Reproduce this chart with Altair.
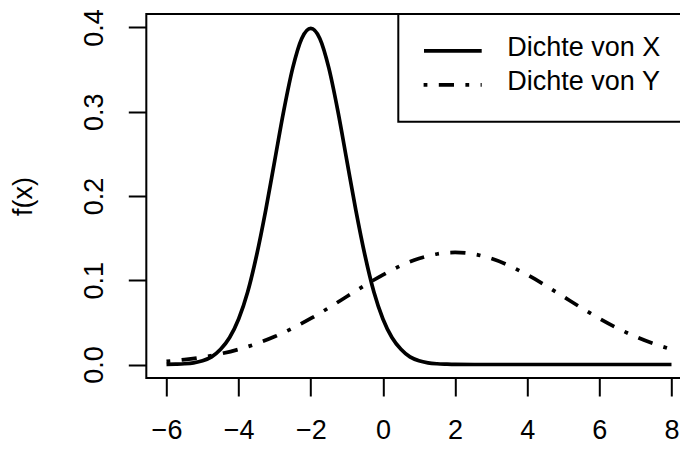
import altair as alt
import pandas as pd

# ---- data ----
x_grid_X = [-6, -5.75, -5.5, -5.25, -5, -4.75, -4.5, -4.25, -4, -3.75, -3.5, -3.25,
            -3, -2.75, -2.5, -2.25, -2, -1.75, -1.5, -1.25, -1, -0.75, -0.5, -0.25,
            0, 0.25, 0.5, 0.75, 1, 1.25, 1.5, 1.75, 2, 3, 4, 5, 6, 7, 8]
dens_X = [0.0001, 0.0004, 0.0009, 0.002, 0.0044, 0.009, 0.018, 0.032, 0.054, 0.086,
          0.130, 0.183, 0.242, 0.301, 0.352, 0.387, 0.399, 0.387, 0.352, 0.301,
          0.242, 0.183, 0.130, 0.086, 0.054, 0.032, 0.018, 0.009, 0.0044, 0.002,
          0.0009, 0.0004, 0.0001, 0.0, 0.0, 0.0, 0.0, 0.0, 0.0]

x_grid_Y = [-6, -5.5, -5, -4.5, -4, -3.5, -3, -2.5, -2, -1.5, -1, -0.5, 0, 0.5, 1,
            1.5, 2, 2.5, 3, 3.5, 4, 4.5, 5, 5.5, 6, 6.5, 7, 7.5, 8]
dens_Y = [0.0038, 0.0058, 0.0087, 0.0127, 0.0180, 0.0248, 0.0332, 0.0432, 0.0547,
          0.0673, 0.0807, 0.0940, 0.1065, 0.1174, 0.1258, 0.1312, 0.1330, 0.1312,
          0.1258, 0.1174, 0.1065, 0.0940, 0.0807, 0.0673, 0.0547, 0.0432, 0.0332,
          0.0248, 0.0180]

x_ticks = [-6, -4, -2, 0, 2, 4, 6, 8]
y_ticks = [0.0, 0.1, 0.2, 0.3, 0.4]
x_lim = [-6.56, 8.56]          # full plot box (right edge falls off the page)
x_visible = [-6.56, 8.236]     # part of the box that fits on the page
y_lim = [-0.016, 0.416]
legend_labels = ["Dichte von X", "Dichte von Y"]
y_title = "f(x)"

FONT = "Liberation Sans"
FS = 27

df_X = pd.DataFrame({"x": x_grid_X, "f": dens_X})
df_Y = pd.DataFrame({"x": x_grid_Y, "f": dens_Y})

xscale = alt.Scale(domain=x_visible, nice=False, zero=False)
yscale = alt.Scale(domain=y_lim, nice=False, zero=False)

x_axis = alt.Axis(values=x_ticks, format="d", tickSize=18, tickWidth=2, tickColor="black",
                  labelFontSize=FS, labelFont=FONT, labelColor="black", labelPadding=21,
                  labelFlush=False, labelOverlap=False, domain=False, grid=False)
y_axis = alt.Axis(values=y_ticks, format=".1f", tickSize=18, tickWidth=2, tickColor="black",
                  labelFontSize=FS, labelFont=FONT, labelColor="black", labelPadding=34,
                  labelAngle=270, labelAlign="center", labelBaseline="middle",
                  labelFlush=False, labelOverlap=False, domain=False, grid=False,
                  title=y_title, titleFont=FONT, titleFontSize=FS, titleFontWeight="normal",
                  titleColor="black", titleAngle=270, titleAlign="center",
                  titleBaseline="middle", titleX=-123, titleY=182)

frame_df = pd.DataFrame({"x0": [x_lim[0]], "x1": [x_lim[1]], "y0": [y_lim[0]], "y1": [y_lim[1]]})
frame = alt.Chart(frame_df).mark_rect(fillOpacity=0, stroke="black", strokeWidth=2).encode(
    x=alt.X("x0:Q", scale=xscale, axis=x_axis, title=None),
    x2="x1:Q",
    y=alt.Y("y0:Q", scale=yscale, axis=y_axis, title=y_title),
    y2="y1:Q",
)

line_X = alt.Chart(df_X).mark_line(color="black", strokeWidth=3.7, interpolate="monotone").encode(
    x=alt.X("x:Q", scale=xscale, axis=x_axis, title=None),
    y=alt.Y("f:Q", scale=yscale, axis=y_axis, title=y_title),
)

line_Y = alt.Chart(df_Y).mark_line(color="black", strokeWidth=3.7, interpolate="monotone",
                                   strokeDash=[3.8, 11.4, 15.2, 11.4], strokeCap="butt").encode(
    x=alt.X("x:Q", scale=xscale, axis=x_axis, title=None),
    y=alt.Y("f:Q", scale=yscale, axis=y_axis, title=y_title),
)

one = pd.DataFrame({"a": [0]})
leg_box = alt.Chart(one).mark_rect(fill="white", stroke="black", strokeWidth=2).encode(
    x=alt.value(252), x2=alt.value(570), y=alt.value(0), y2=alt.value(107.8))
leg_l1 = alt.Chart(one).mark_rule(color="black", strokeWidth=3.7).encode(
    x=alt.value(277.7), x2=alt.value(335.4), y=alt.value(36.8))
leg_l2 = alt.Chart(one).mark_rule(color="black", strokeWidth=3.7,
                                  strokeDash=[3.8, 11.4, 15.2, 11.4], strokeCap="butt").encode(
    x=alt.value(277.3), x2=alt.value(335.4), y=alt.value(70.8))
leg_t1 = alt.Chart(one).mark_text(align="left", baseline="middle", font=FONT, fontSize=FS,
                                  color="black").encode(
    x=alt.value(361), y=alt.value(34.1), text=alt.value(legend_labels[0]))
leg_t2 = alt.Chart(one).mark_text(align="left", baseline="middle", font=FONT, fontSize=FS,
                                  color="black").encode(
    x=alt.value(361), y=alt.value(68.1), text=alt.value(legend_labels[1]))

chart = alt.layer(frame, line_X, line_Y, leg_box, leg_l1, leg_l2, leg_t1, leg_t2).properties(
    width=533.7, height=364,
    autosize=alt.AutoSizeParams(type="none"),
    padding={"left": 138.3, "top": 6, "right": 0, "bottom": 66},
).configure_view(stroke=None).configure(background="white")

chart.save("out.html", embed_options={"renderer": "svg", "actions": False})
